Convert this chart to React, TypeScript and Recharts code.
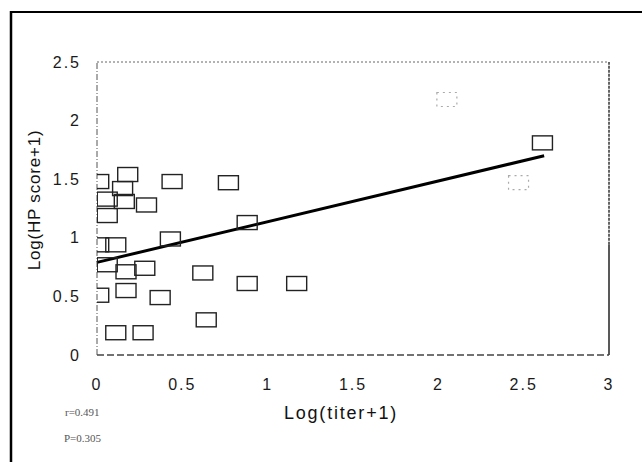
import React from "react";
import {
  ScatterChart,
  Scatter,
  XAxis,
  YAxis,
  ReferenceLine,
} from "recharts";

// Log(titer+1) and Log(HP score+1) for each animal
const titerLog = [
  0.01, 0.18, 0.15, 0.06, 0.16, 0.29, 0.44, 0.77, 0.06, 0.01, 0.11, 0.43, 0.88,
  0.06, 0.17, 0.28, 0.62, 0.88, 1.17, 0.01, 0.17, 0.37, 0.64, 0.11, 0.27, 2.61,
];
const scoreLog = [
  1.48, 1.54, 1.42, 1.33, 1.31, 1.28, 1.48, 1.47, 1.19, 0.94, 0.94, 0.99, 1.13,
  0.77, 0.71, 0.74, 0.7, 0.61, 0.61, 0.51, 0.55, 0.49, 0.3, 0.19, 0.19, 1.81,
];

// faintly printed points
const titerLogFaint = [2.05, 2.47];
const scoreLogFaint = [2.18, 1.47];

// least-squares fit endpoints
const trendX = [0.0, 2.62];
const trendY = [0.79, 1.7];

const xTicks = [0, 0.5, 1, 1.5, 2, 2.5, 3];
const yTicks = [0, 0.5, 1, 1.5, 2, 2.5];

const points = titerLog.map((x, i) => ({ x, y: scoreLog[i] }));
const faintPoints = titerLogFaint.map((x, i) => ({ x, y: scoreLogFaint[i] }));

const tickFont = {
  fontFamily: "'Liberation Sans', Arial, sans-serif",
  fontSize: 16,
  fill: "#1a1a1a",
  letterSpacing: 2,
};

const OpenSquare = (props: any) => {
  const { cx, cy } = props;
  if (cx == null || cy == null) return null;
  return (
    <rect
      x={cx - 10}
      y={cy - 7}
      width={20}
      height={14}
      fill="none"
      stroke="#222"
      strokeWidth={1.4}
    />
  );
};

const FaintSquare = (props: any) => {
  const { cx, cy } = props;
  if (cx == null || cy == null) return null;
  return (
    <rect
      x={cx - 10}
      y={cy - 7}
      width={20}
      height={14}
      fill="none"
      stroke="#aaa"
      strokeWidth={1.2}
      strokeDasharray="2 4"
    />
  );
};

export default function App() {
  return (
    <div
      style={{
        position: "absolute",
        left: 0,
        top: 0,
        width: 642,
        height: 462,
        background: "#fff",
        overflow: "hidden",
      }}
    >
      <ScatterChart
        width={642}
        height={462}
        margin={{ top: 62, right: 33, bottom: 77, left: 37 }}
      >
        <XAxis
          type="number"
          dataKey="x"
          domain={[0, 3]}
          ticks={xTicks}
          allowDataOverflow
          axisLine={false}
          tickLine={false}
          tickSize={0}
          tickMargin={24}
          height={30}
          tick={tickFont}
        />
        <YAxis
          type="number"
          dataKey="y"
          domain={[0, 2.5]}
          ticks={yTicks}
          allowDataOverflow
          axisLine={false}
          tickLine={false}
          tickSize={0}
          tickMargin={16}
          width={60}
          tick={tickFont}
        />
        {/* plot frame */}
        <ReferenceLine
          segment={[{ x: 0, y: 2.5 }, { x: 3, y: 2.5 }]}
          stroke="#666"
          strokeWidth={1}
          strokeDasharray="2 2"
          ifOverflow="visible"
        />
        <ReferenceLine
          segment={[{ x: 0, y: 0 }, { x: 0, y: 2.5 }]}
          stroke="#555"
          strokeWidth={1}
          strokeDasharray="6 2 1 2"
          ifOverflow="visible"
        />
        <ReferenceLine
          segment={[{ x: 3, y: 0.94 }, { x: 3, y: 2.5 }]}
          stroke="#333"
          strokeWidth={1.5}
          strokeDasharray="3 1"
          ifOverflow="visible"
        />
        <ReferenceLine
          segment={[{ x: 3, y: 0 }, { x: 3, y: 0.94 }]}
          stroke="#222"
          strokeWidth={1.5}
          ifOverflow="visible"
        />
        <ReferenceLine
          segment={[{ x: 0, y: 0 }, { x: 3, y: 0 }]}
          stroke="#444"
          strokeWidth={1.3}
          strokeDasharray="7 3"
          ifOverflow="visible"
        />
        <Scatter
          data={faintPoints}
          shape={FaintSquare}
          isAnimationActive={false}
        />
        <Scatter data={points} shape={OpenSquare} isAnimationActive={false} />
        <ReferenceLine
          segment={[
            { x: trendX[0], y: trendY[0] },
            { x: trendX[1], y: trendY[1] },
          ]}
          stroke="#000"
          strokeWidth={3}
          ifOverflow="visible"
        />
      </ScatterChart>
      <svg
        width={642}
        height={462}
        style={{ position: "absolute", left: 0, top: 0, pointerEvents: "none" }}
      >
        {/* figure border */}
        <line x1={11} y1={12} x2={642} y2={12} stroke="#000" strokeWidth={2} />
        <line x1={11} y1={11} x2={11} y2={462} stroke="#000" strokeWidth={2.5} />
        <text
          x={34}
          y={200}
          transform="rotate(-90 34 200)"
          textAnchor="middle"
          dominantBaseline="central"
          fontFamily="'Liberation Sans', Arial, sans-serif"
          fontSize={17}
          letterSpacing={0.8}
          fill="#111"
        >
          Log(HP score+1)
        </text>
        <text
          x={341}
          y={413}
          textAnchor="middle"
          dominantBaseline="central"
          fontFamily="'Liberation Sans', Arial, sans-serif"
          fontSize={18}
          letterSpacing={1.8}
          fill="#111"
        >
          Log(titer+1)
        </text>
        <text
          x={65}
          y={416}
          fontFamily="'Liberation Serif', 'Times New Roman', serif"
          fontSize={11}
          fill="#555"
        >
          r=0.491
        </text>
        <text
          x={64}
          y={442}
          fontFamily="'Liberation Serif', 'Times New Roman', serif"
          fontSize={11}
          fill="#555"
        >
          P=0.305
        </text>
      </svg>
    </div>
  );
}
